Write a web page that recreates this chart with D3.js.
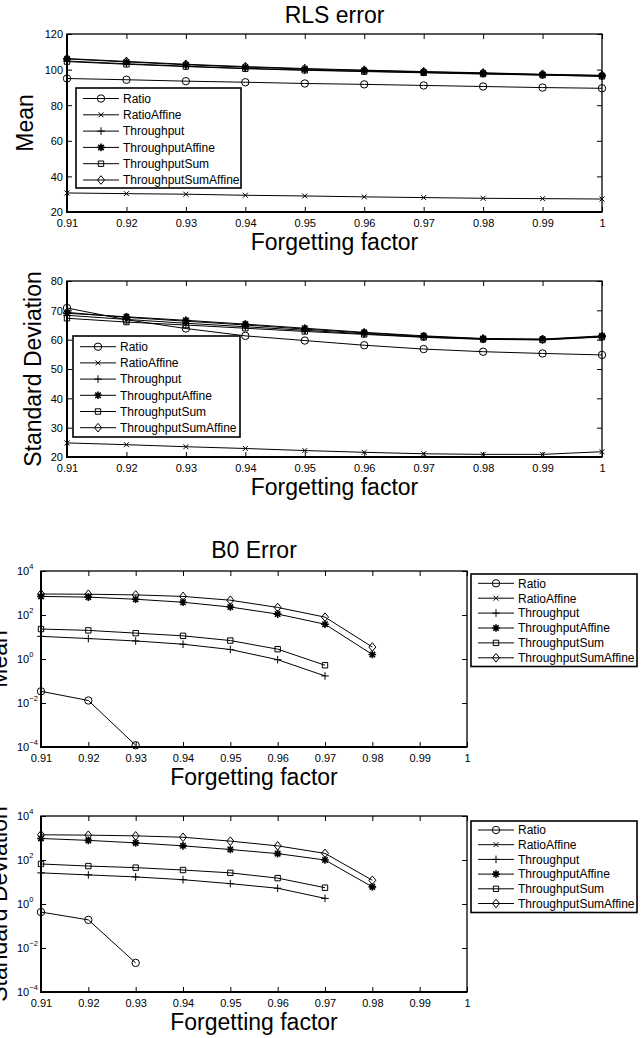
<!DOCTYPE html>
<html>
<head>
<meta charset="utf-8">
<script src="https://cdnjs.cloudflare.com/ajax/libs/d3/7.8.5/d3.min.js"></script>
<style>
  body { margin: 0; background: #fff; }
  svg { display: block; font-family: "Liberation Sans", Arial, sans-serif; }
</style>
</head>
<body>
<svg id="chart"></svg>
<script>
const width = 641;
const height = 1038;

const forgetting = [0.91, 0.92, 0.93, 0.94, 0.95, 0.96, 0.97, 0.98, 0.99, 1.00];
const seriesNames = ["Ratio", "RatioAffine", "Throughput", "ThroughputAffine", "ThroughputSum", "ThroughputSumAffine"];
const markerTypes = ["circle", "x", "plus", "star", "square", "diamond"];
const linearTicksMean = [20, 40, 60, 80, 100, 120];
const linearTicksStd = [20, 30, 40, 50, 60, 70, 80];
const logTicks = [1e-4, 1e-2, 1, 1e2, 1e4];

// RLS error, mean
const rlsMean = {
    Ratio:               [95.0, 94.3, 93.5, 92.9, 92.2, 91.7, 91.1, 90.5, 89.9, 89.5],
    RatioAffine:         [30.7, 30.3, 30.0, 29.4, 29.0, 28.5, 28.1, 27.7, 27.5, 27.3],
    Throughput:          [104.8, 103.3, 101.9, 100.7, 99.8, 99.1, 98.4, 97.7, 97.0, 96.3],
    ThroughputAffine:    [106.0, 104.3, 102.7, 101.4, 100.3, 99.5, 98.7, 98.0, 97.2, 96.6],
    ThroughputSum:       [104.5, 103.0, 101.7, 100.5, 99.6, 98.9, 98.2, 97.5, 96.9, 96.2],
    ThroughputSumAffine: [106.2, 104.6, 103.0, 101.7, 100.6, 99.7, 98.9, 98.2, 97.4, 96.8]
};

// RLS error, standard deviation
const rlsStd = {
    Ratio:               [70.8, 66.8, 63.8, 61.3, 59.7, 58.1, 56.8, 55.9, 55.3, 54.8],
    RatioAffine:         [24.8, 24.2, 23.5, 22.9, 22.2, 21.6, 21.1, 20.9, 20.9, 21.8],
    Throughput:          [68.3, 66.9, 65.6, 64.4, 63.2, 62.0, 60.9, 60.2, 60.0, 61.0],
    ThroughputAffine:    [69.0, 67.8, 66.6, 65.3, 63.9, 62.5, 61.3, 60.4, 60.2, 61.3],
    ThroughputSum:       [67.3, 66.0, 65.0, 63.9, 62.8, 61.8, 60.8, 60.1, 59.9, 60.9],
    ThroughputSumAffine: [69.3, 67.6, 66.3, 65.0, 63.6, 62.3, 61.1, 60.3, 60.1, 61.1]
};

// B0 error, mean (null = not plotted)
const b0Mean = {
    Ratio:               [0.034, 0.013, 1.2e-4, null, null, null, null, null, null, null],
    RatioAffine:         [null, null, null, null, null, null, null, null, null, null],
    Throughput:          [10.7, 8.5, 6.6, 4.7, 2.7, 0.93, 0.17, null, null, null],
    ThroughputAffine:    [700, 650, 520, 380, 230, 110, 38, 1.6, null, null],
    ThroughputSum:       [23, 20, 15, 11.3, 6.9, 2.8, 0.52, null, null, null],
    ThroughputSumAffine: [900, 880, 820, 700, 470, 220, 80, 3.5, null, null]
};

// B0 error, standard deviation
const b0Std = {
    Ratio:               [0.43, 0.19, 0.0021, null, null, null, null, null, null, null],
    RatioAffine:         [null, null, null, null, null, null, null, null, null, null],
    Throughput:          [26, 21, 17, 12.7, 8.4, 5.2, 1.8, null, null, null],
    ThroughputAffine:    [950, 780, 600, 440, 300, 195, 100, 6.0, null, null],
    ThroughputSum:       [66, 53, 45, 35, 26, 15, 5.5, null, null, null],
    ThroughputSumAffine: [1400, 1350, 1250, 1080, 720, 440, 200, 12, null, null]
};

const svg = d3.select("#chart").attr("width", width).attr("height", height);

function markerPath(type) {
    switch (type) {
        case "circle": return d3.arc()({innerRadius: 0, outerRadius: 3.7, startAngle: 0, endAngle: 2 * Math.PI});
        case "x": return "M-2.5,-2.5L2.5,2.5M-2.5,2.5L2.5,-2.5";
        case "plus": return "M-3.8,0L3.8,0M0,-3.8L0,3.8";
        case "star": return "M-3.8,0L3.8,0M0,-3.8L0,3.8M-2.7,-2.7L2.7,2.7M-2.7,2.7L2.7,-2.7";
        case "square": return "M-2.7,-2.7H2.7V2.7H-2.7Z";
        case "diamond": return "M0,-4.3L3.5,0L0,4.3L-3.5,0Z";
    }
}

function drawMarker(g, type, cx, cy) {
    g.append("path")
        .attr("d", markerPath(type))
        .attr("transform", `translate(${cx},${cy})`)
        .attr("fill", "none")
        .attr("stroke", "#000")
        .attr("stroke-width", type === "star" ? 1.6 : 1);
}

function drawPanel(p) {
    const g = svg.append("g");

    const x = d3.scaleLinear().domain([0.91, 1]).range([p.x0, p.x1]);
    const y = (p.log ? d3.scaleLog() : d3.scaleLinear()).domain(p.domain).range([p.y1, p.y0]);

    // bottom axis with inward ticks
    const xAxis = g.append("g").attr("transform", `translate(0,${p.y1})`)
        .call(d3.axisBottom(x).tickValues(forgetting).tickSize(-5)
            .tickFormat(d => d === 1 ? "1" : d.toFixed(2)));
    xAxis.select(".domain").remove();
    xAxis.selectAll("text").attr("y", 15).attr("dy", null)
        .style("font-size", "11px").style("font-family", "inherit").attr("fill", "#000");

    g.append("g").attr("transform", `translate(0,${p.y0})`)
        .call(d3.axisTop(x).tickValues(forgetting).tickSize(-5).tickFormat(""))
        .select(".domain").remove();

    const yAxis = g.append("g").attr("transform", `translate(${p.x0},0)`)
        .call(d3.axisLeft(y).tickValues(p.ticks).tickSize(-5).tickFormat(p.log ? "" : d3.format("d")));
    yAxis.select(".domain").remove();
    if (!p.log) {
        yAxis.selectAll("text").attr("x", -4).attr("dy", "0.35em")
            .style("font-size", "11px").style("font-family", "inherit").attr("fill", "#000");
    }

    g.append("g").attr("transform", `translate(${p.x1},0)`)
        .call(d3.axisRight(y).tickValues(p.ticks).tickSize(-5).tickFormat(""))
        .select(".domain").remove();

    g.selectAll(".tick line").attr("stroke", "#000");

    if (p.log) {
        p.ticks.forEach(t => {
            const e = Math.round(Math.log10(t));
            const txt = g.append("text").attr("x", 17).attr("y", y(t) + 4)
                .style("font-size", "11px");
            txt.append("tspan").text("10");
            txt.append("tspan").attr("dy", -6).style("font-size", "7.5px")
                .text(e < 0 ? "\u2212" + Math.abs(e) : String(e));
        });
    }

    // box
    g.append("rect").attr("x", p.x0).attr("y", p.y0)
        .attr("width", p.x1 - p.x0).attr("height", p.y1 - p.y0)
        .attr("fill", "none").attr("stroke", "#000").attr("stroke-width", 1.3);
    g.append("path")
        .attr("d", `M${p.x0},${p.y0}V${p.y1}H${p.x1}`)
        .attr("fill", "none").attr("stroke", "#000").attr("stroke-width", 2);

    // series
    const line = d3.line()
        .defined(d => d.v !== null)
        .x(d => x(d.f))
        .y(d => y(d.v));

    seriesNames.forEach((name, i) => {
        const pts = forgetting.map((f, j) => ({f: f, v: p.data[name][j]}));
        g.append("path").datum(pts).attr("d", line)
            .attr("fill", "none").attr("stroke", "#000").attr("stroke-width", 1);
        pts.filter(d => d.v !== null).forEach(d => drawMarker(g, markerTypes[i], x(d.f), y(d.v)));
    });

    // legend
    const L = p.legend;
    g.append("rect").attr("x", L.x).attr("y", L.y).attr("width", L.w).attr("height", L.h)
        .attr("fill", "#fff").attr("stroke", "#000").attr("stroke-width", 1.6);
    seriesNames.forEach((name, i) => {
        const ry = L.y + L.first + i * L.step;
        g.append("line").attr("x1", L.x + 7).attr("x2", L.x + 43).attr("y1", ry).attr("y2", ry)
            .attr("stroke", "#000").attr("stroke-width", 1);
        drawMarker(g, markerTypes[i], L.x + 25, ry);
        g.append("text").attr("x", L.x + 47).attr("y", ry + 4.3)
            .style("font-size", "12px").text(name);
    });

    // labels
    if (p.title) {
        g.append("text").attr("x", (p.x0 + p.x1) / 2).attr("y", p.titleY)
            .attr("text-anchor", "middle").style("font-size", "23px").text(p.title);
    }
    g.append("text").attr("x", (p.x0 + p.x1) / 2).attr("y", p.y1 + 38)
        .attr("text-anchor", "middle").style("font-size", "23px").text("Forgetting factor");
    g.append("text")
        .attr("transform", `translate(${p.ylabelX},${(p.y0 + p.y1) / 2}) rotate(-90)`)
        .attr("text-anchor", "middle").style("font-size", "23px").text(p.ylabel);
}

drawPanel({
    x0: 67, x1: 602, y0: 34, y1: 212, domain: [20, 120], ticks: linearTicksMean, log: false,
    data: rlsMean, title: "RLS error", titleY: 23, ylabel: "Mean", ylabelX: 33,
    legend: {x: 76, y: 88, w: 165, h: 100, first: 10.5, step: 16.3}
});

drawPanel({
    x0: 67, x1: 602, y0: 281, y1: 457, domain: [20, 80], ticks: linearTicksStd, log: false,
    data: rlsStd, title: null, ylabel: "Standard Deviation", ylabelX: 41,
    legend: {x: 73, y: 336, w: 167, h: 101, first: 10.7, step: 16.2}
});

drawPanel({
    x0: 41, x1: 467, y0: 571, y1: 747, domain: [1e-4, 1e4], ticks: logTicks, log: true,
    data: b0Mean, title: "B0 Error", titleY: 558, ylabel: "Mean", ylabelX: 7,
    legend: {x: 471, y: 574, w: 166, h: 92.5, first: 9.3, step: 14.9}
});

drawPanel({
    x0: 41, x1: 467, y0: 816, y1: 992, domain: [1e-4, 1e4], ticks: logTicks, log: true,
    data: b0Std, title: null, ylabel: "Standard Deviation", ylabelX: 7,
    legend: {x: 471, y: 821, w: 166, h: 91.5, first: 9, step: 14.7}
});
</script>
</body>
</html>
